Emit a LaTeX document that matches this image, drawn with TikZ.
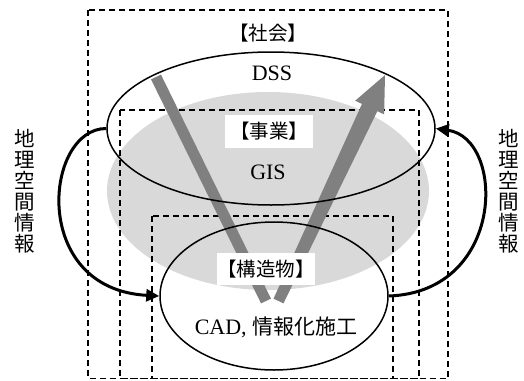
\documentclass[tikz,border=0pt]{standalone}
\usepackage{fontspec}
\setmainfont{Liberation Serif}
\newfontfamily\jpfont{Noto Sans CJK JP}
\usepackage{xcolor}
\definecolor{geoband}{HTML}{D9D9D9}
\definecolor{geoarrow}{HTML}{808080}
\usepackage{tikz}
\usetikzlibrary{arrows.meta,shapes.geometric,calc}
\tikzset{
  geolayer/.style={draw,dash pattern=on 6pt off 4pt,line width=1.2pt},
  georing/.style={draw,ellipse,line width=1.5pt,inner sep=0pt},
  geotag/.style={fill=white,inner sep=0pt,font=\jpfont\fontsize{19.5pt}{22pt}\selectfont},
  geotext/.style={inner sep=0pt,font=\fontsize{22pt}{24pt}\selectfont},
  geovert/.style={align=center,inner sep=0pt,font=\jpfont\fontsize{20.5pt}{21pt}\selectfont},
  geolink/.style={-{Triangle[length=13pt,width=12pt]},line width=3pt},
}
\begin{document}
\begin{tikzpicture}[x=1pt,y=-1pt]
\useasboundingbox (0,0) rectangle (524,380);
% shared field
\node[ellipse,fill=geoband,minimum width=322pt,minimum height=198pt,inner sep=0pt] (gis) at (268,191) {};
% nested layers
\draw[geolayer] (88,10) rectangle (448,378.5);
\draw[geolayer] (120,110) rectangle (419,378.5);
\draw[geolayer] (152,216) rectangle (393,378.5);
% down and back up
\coordinate (vtop) at (156,77);
\coordinate (vlow) at (266,301);
\coordinate (ubase) at (278.5,301);
\coordinate (utip) at (385,75);
\coordinate (uhead) at ($(utip)!36pt!(ubase)$);
\draw[geoarrow,line width=11pt] (vtop) -- (vlow);
\fill[geoarrow] ($(ubase)!5.5pt!90:(utip)$) -- ($(uhead)!8.5pt!90:(utip)$) -- ($(uhead)!16pt!90:(utip)$) -- (utip)
  -- ($(uhead)!16pt!-90:(utip)$) -- ($(uhead)!8.5pt!-90:(utip)$) -- ($(ubase)!5.5pt!-90:(utip)$) -- cycle;
% rings
\node[georing,minimum width=328pt,minimum height=153pt] (dss) at (271,128.5) {};
\node[georing,minimum width=228pt,minimum height=148pt] (cad) at (274,296) {};
% labels
\node[geotag] (societytag) at (268,33) {【社会】};
\node[geotext] (dsstext) at (272,73) {DSS};
\node[geotag,minimum width=88pt,minimum height=33pt] (businesstag) at (269,131.5) {【事業】};
\node[geotext] (gistext) at (268,172) {GIS};
\node[geotag,minimum width=98pt,minimum height=32pt] (structtag) at (266,269) {【構造物】};
\node[geotext] (cadtext) at (276,327) {CAD, {\jpfont\fontsize{21pt}{24pt}\selectfont 情報化施工}};
\node[geovert] (leftinfo) at (25,191.5) {地\\理\\空\\間\\情\\報};
\node[geovert] (rightinfo) at (509,191.5) {地\\理\\空\\間\\情\\報};
% geospatial links
\draw[geolink] (dss.west) .. controls +(-62,0) and +(-130,-7) .. (cad.west);
\draw[geolink] (cad.east) .. controls +(117,-4) and +(70,10) .. (dss.east);
\end{tikzpicture}
\end{document}
